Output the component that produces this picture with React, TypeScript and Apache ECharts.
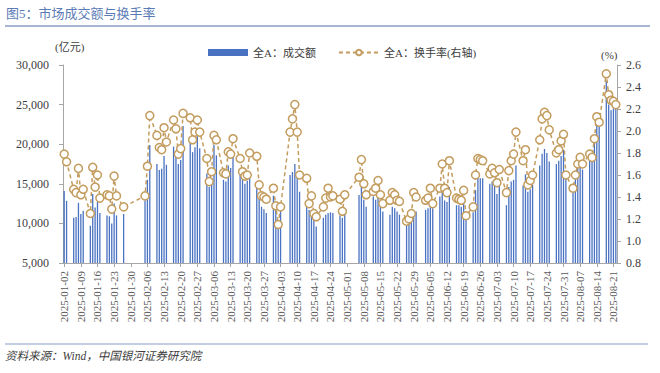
import React, { useEffect, useRef } from "react";
import * as echarts from "echarts";

// Trading days of 2025 (MM-DD), grouped by month
const tradingDays: string[] = [
  "01-02","01-03","01-06","01-07","01-08","01-09","01-10","01-13","01-14","01-15","01-16","01-17","01-20","01-21","01-22","01-23","01-24","01-27",
  "02-05","02-06","02-07","02-10","02-11","02-12","02-13","02-14","02-17","02-18","02-19","02-20","02-21","02-24","02-25","02-26","02-27","02-28",
  "03-03","03-04","03-05","03-06","03-07","03-10","03-11","03-12","03-13","03-14","03-17","03-18","03-19","03-20","03-21","03-24","03-25","03-26","03-27","03-28","03-31",
  "04-01","04-02","04-03","04-07","04-08","04-09","04-10","04-11","04-14","04-15","04-16","04-17","04-18","04-21","04-22","04-23","04-24","04-25","04-28","04-29","04-30",
  "05-06","05-07","05-08","05-09","05-12","05-13","05-14","05-15","05-16","05-19","05-20","05-21","05-22","05-23","05-26","05-27","05-28","05-29","05-30",
  "06-03","06-04","06-05","06-06","06-09","06-10","06-11","06-12","06-13","06-16","06-17","06-18","06-19","06-20","06-23","06-24","06-25","06-26","06-27","06-30",
  "07-01","07-02","07-03","07-04","07-07","07-08","07-09","07-10","07-11","07-14","07-15","07-16","07-17","07-18","07-21","07-22","07-23","07-24","07-25","07-28","07-29","07-30","07-31",
  "08-01","08-04","08-05","08-06","08-07","08-08","08-11","08-12","08-13","08-14","08-15","08-18","08-19","08-20","08-21","08-22",
];

// 全A：成交额 (亿元)
const turnoverAmount: number[] = [
  14100,12850,10700,10800,12600,11200,11600,9700,13700,12000,12700,11300,11000,10900,10000,12500,11000,11200,
  12900,15500,19900,17500,16750,16900,18500,17400,19700,18600,17500,18000,22300,20500,19000,19600,21000,19500,
  16300,14600,15700,19900,18600,15500,15300,17300,17000,18500,16700,15700,15000,15400,16500,15000,13200,12100,11800,11300,13500,
  11900,10200,11800,16100,16500,17500,16500,14000,12300,11700,11100,10700,9600,10700,11100,11300,11400,11300,11000,10700,11600,
  13600,14900,13000,12100,13400,13000,13600,12100,11500,11100,12100,11900,11500,11100,10000,10100,10500,11300,11500,
  11700,11900,13000,11900,13400,14000,12900,12700,14600,12300,12300,12100,12500,10700,11400,14200,16000,15700,15700,15000,
  15300,14800,13700,15000,12300,14600,15300,15500,17300,14800,16200,14000,14300,14900,17300,18800,19400,18900,17800,17500,17900,18500,19300,
  16000,15000,16000,17000,17500,16800,18400,18700,21000,22700,22200,28000,25000,24300,24500,24800,
];

// 全A：换手率 (%)
const turnoverRate: number[] = [
  1.79,1.72,1.47,1.44,1.66,1.42,1.47,1.25,1.67,1.49,1.60,1.39,1.42,1.41,1.29,1.59,1.41,1.31,
  1.41,1.68,2.14,1.96,1.85,1.83,2.03,1.90,2.10,2.02,1.79,1.84,2.16,2.12,1.92,1.99,2.10,1.99,
  1.75,1.54,1.63,1.96,1.92,1.62,1.61,1.81,1.79,1.93,1.75,1.63,1.59,1.60,1.80,1.77,1.51,1.41,1.40,1.38,1.48,
  1.32,1.15,1.31,1.99,2.11,2.24,1.99,1.60,1.57,1.34,1.41,1.25,1.22,1.31,1.39,1.48,1.40,1.41,1.38,1.27,1.42,
  1.58,1.74,1.52,1.42,1.45,1.48,1.55,1.42,1.34,1.37,1.44,1.42,1.37,1.36,1.18,1.20,1.25,1.44,1.40,
  1.37,1.39,1.48,1.34,1.48,1.70,1.48,1.44,1.73,1.39,1.38,1.37,1.46,1.23,1.31,1.60,1.75,1.74,1.73,1.61,
  1.66,1.62,1.53,1.65,1.44,1.64,1.73,1.79,1.99,1.73,1.83,1.51,1.55,1.60,1.92,2.11,2.17,2.14,2.01,1.80,1.83,1.91,1.97,
  1.60,1.48,1.60,1.70,1.76,1.70,1.79,1.76,1.93,2.13,2.08,2.52,2.33,2.28,2.27,2.24,
];

const YEAR = 2025;
const firstDay = "01-02";
const lastDay = "08-22";
const labelEveryDays = 7;

const titleText = "图5：市场成交额与换手率";
const sourceText = "资料来源：Wind，中国银河证券研究院";
const amountName = "全A：成交额";
const rateName = "全A：换手率(右轴)";

function buildCalendar(): string[] {
  const [sm, sd] = firstDay.split("-").map(Number);
  const [em, ed] = lastDay.split("-").map(Number);
  const start = Date.UTC(YEAR, sm - 1, sd);
  const end = Date.UTC(YEAR, em - 1, ed);
  const out: string[] = [];
  for (let t = start; t <= end; t += 86400000) {
    const d = new Date(t);
    const mm = String(d.getUTCMonth() + 1).padStart(2, "0");
    const dd = String(d.getUTCDate()).padStart(2, "0");
    out.push(`${YEAR}-${mm}-${dd}`);
  }
  return out;
}

const SERIF = "'Liberation Serif', 'Times New Roman', 'Noto Sans CJK SC', serif";
const LINE_COLOR = "#C39C5E";
const BAR_COLOR = "#4A72C2";
const AXIS_COLOR = "#A6A6A6";

export default function App() {
  const ref = useRef<HTMLDivElement>(null);
  useEffect(() => {
    document.body.style.margin = "0";
    const calendar = buildCalendar();
    const amountMap = new Map<string, number>();
    const rateMap = new Map<string, number>();
    tradingDays.forEach((d, i) => {
      amountMap.set(`${YEAR}-${d}`, turnoverAmount[i]);
      rateMap.set(`${YEAR}-${d}`, turnoverRate[i]);
    });
    const barData = calendar.map((d) => (amountMap.has(d) ? amountMap.get(d)! : null));
    const lineData = calendar.map((d) => (rateMap.has(d) ? rateMap.get(d)! : null));
    const showIdx = (index: number) => index % labelEveryDays === 0;

    const chart = echarts.init(ref.current!, undefined, { renderer: "svg" });
    chart.setOption({
      animation: false,
      backgroundColor: "#ffffff",
      grid: { left: 63, right: 43, top: 65, bottom: 110, containLabel: false },
      legend: {
        left: 203,
        top: 42,
        itemWidth: 40,
        itemHeight: 7,
        itemGap: 22,
        textStyle: { fontSize: 11, color: "#404040", fontFamily: SERIF },
        data: [
          { name: amountName, icon: "rect" },
          { name: rateName },
        ],
      },
      xAxis: {
        type: "category",
        data: calendar,
        boundaryGap: true,
        axisLine: { show: true, lineStyle: { color: AXIS_COLOR, width: 1 } },
        axisTick: {
          show: true,
          alignWithLabel: true,
          interval: showIdx,
          length: 4,
          lineStyle: { color: AXIS_COLOR },
        },
        axisLabel: {
          interval: showIdx,
          rotate: 90,
          margin: 8,
          fontSize: 11,
          color: "#595959",
          fontFamily: SERIF,
        },
        splitLine: { show: false },
      },
      yAxis: [
        {
          type: "value",
          position: "left",
          min: 5000,
          max: 30000,
          interval: 5000,
          axisLine: { show: true, lineStyle: { color: AXIS_COLOR } },
          axisTick: { show: true, length: 4, lineStyle: { color: AXIS_COLOR } },
          axisLabel: {
            margin: 14,
            fontSize: 12,
            color: "#404040",
            fontFamily: SERIF,
            formatter: (v: number) => v.toLocaleString("en-US"),
          },
          splitLine: { show: false },
        },
        {
          type: "value",
          position: "right",
          min: 0.8,
          max: 2.6,
          interval: 0.2,
          axisLine: { show: true, lineStyle: { color: AXIS_COLOR } },
          axisTick: { show: true, length: 4, lineStyle: { color: AXIS_COLOR } },
          axisLabel: {
            margin: 9,
            fontSize: 12,
            color: "#404040",
            fontFamily: SERIF,
            formatter: (v: number) => v.toFixed(1),
          },
          splitLine: { show: false },
        },
      ],
      series: [
        {
          name: amountName,
          type: "bar",
          yAxisIndex: 0,
          data: barData,
          barWidth: 1.3,
          itemStyle: { color: BAR_COLOR },
        },
        {
          name: rateName,
          type: "line",
          yAxisIndex: 1,
          data: lineData,
          connectNulls: true,
          symbol: "circle",
          symbolSize: 8,
          showAllSymbol: true,
          lineStyle: { color: LINE_COLOR, width: 1.5, type: [4, 3] },
          itemStyle: { color: "#ffffff", borderColor: LINE_COLOR, borderWidth: 1.5 },
          z: 3,
        },
      ],
      graphic: [
        {
          type: "text",
          left: 6,
          top: 7,
          style: { text: titleText, fontSize: 13, fill: "#5B7BB6", fontFamily: SERIF },
        },
        {
          type: "line",
          shape: { x1: 5, y1: 26, x2: 650, y2: 26 },
          style: { stroke: "#8A9DC6", lineWidth: 1.5 },
        },
        {
          type: "text",
          left: 55,
          top: 41,
          style: { text: "(亿元)", fontSize: 11, fill: "#404040", fontFamily: SERIF },
        },
        {
          type: "text",
          left: 601,
          top: 49,
          style: { text: "(%)", fontSize: 11, fill: "#404040", fontFamily: SERIF },
        },
        {
          type: "line",
          shape: { x1: 5, y1: 344, x2: 648, y2: 344 },
          style: { stroke: "#8A9DC6", lineWidth: 1.2 },
        },
        {
          type: "text",
          left: 5,
          top: 350,
          style: {
            text: sourceText,
            fontSize: 11.5,
            fontStyle: "italic",
            fill: "#404040",
            fontFamily: SERIF,
          },
        },
      ],
    });
    return () => chart.dispose();
  }, []);
  return (
    <div
      ref={ref}
      style={{ position: "fixed", left: 0, top: 0, width: 660, height: 373, background: "#fff" }}
    />
  );
}
